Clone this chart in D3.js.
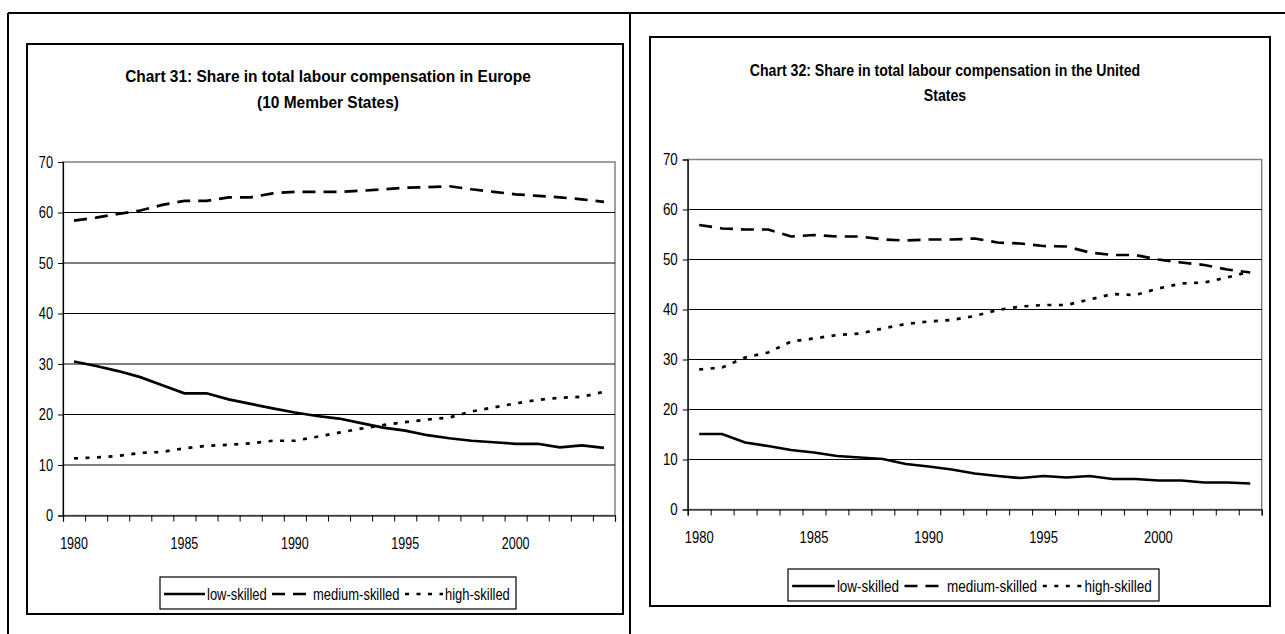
<!DOCTYPE html>
<html><head><meta charset="utf-8">
<script src="https://cdn.jsdelivr.net/npm/d3@7/dist/d3.min.js"></script>
<style>
body{margin:0;background:#fff}
text{font-family:Arial,"Liberation Sans",sans-serif;fill:#000}
</style>
</head><body>
<svg id="c" width="1285" height="634"></svg>
<script>
// ---------- DATA ----------
const years = ["1980","1981","1982","1983","1984","1985","1986","1987","1988","1989","1990","1991","1992",
               "1993","1994","1995","1996","1997","1998","1999","2000","2001","2002","2003","2004"];
const yearLabels = ["1980","1985","1990","1995","2000"];
const yTicks = [0,10,20,30,40,50,60,70];
const seriesNames = ["low-skilled","medium-skilled","high-skilled"];

// Chart 31: Europe (10 Member States)
const euLow    = [30.5,29.6,28.6,27.4,25.8,24.2,24.2,23.0,22.1,21.2,20.4,19.7,19.2,18.3,17.4,16.8,15.9,15.3,14.8,14.5,14.2,14.2,13.5,13.9,13.4];
const euMedium = [58.4,59.0,59.7,60.4,61.5,62.3,62.3,63.0,63.0,63.8,64.1,64.1,64.1,64.3,64.6,64.9,65.0,65.2,64.6,64.1,63.6,63.3,63.0,62.6,62.1];
const euHigh   = [11.3,11.5,11.8,12.4,12.6,13.3,13.8,14.0,14.3,14.8,14.8,15.6,16.4,17.2,17.9,18.5,19.0,19.4,20.6,21.4,22.2,22.9,23.3,23.5,24.5];

// Chart 32: United States
const usLow    = [15.1,15.1,13.4,12.7,11.9,11.4,10.7,10.4,10.1,9.1,8.6,8.0,7.2,6.7,6.3,6.7,6.4,6.7,6.1,6.1,5.8,5.8,5.4,5.4,5.2];
const usMedium = [56.9,56.2,56.0,56.0,54.6,54.9,54.6,54.6,54.0,53.8,54.0,54.0,54.2,53.4,53.2,52.7,52.6,51.4,50.9,50.9,50.0,49.4,48.9,48.0,47.4];
const usHigh   = [28.0,28.4,30.4,31.4,33.6,34.2,34.9,35.2,36.2,37.1,37.6,37.9,38.7,39.9,40.6,40.9,40.9,42.0,43.1,42.9,44.2,45.2,45.4,46.4,47.6];

const euTitle = ["Chart 31: Share in total labour compensation in Europe","(10 Member States)"];
const usTitle = ["Chart 32: Share in total labour compensation in the United","States"];

// ---------- STYLE ----------
const dashes = [null, "13,8", "4,7.5"];
const svg = d3.select("#c");
svg.append("rect").attr("width",1285).attr("height",634).attr("fill","#fff");

function squeeze(sel,k){
  sel.each(function(){
    const l=this.getComputedTextLength();
    this.setAttribute("textLength", l*k);
    this.setAttribute("lengthAdjust","spacingAndGlyphs");
  });
}

// outer document frame
const frame = svg.append("g").attr("stroke","#000").attr("stroke-width",2);
frame.append("line").attr("x1",8).attr("x2",1285).attr("y1",13).attr("y2",13);
frame.append("line").attr("x1",8).attr("x2",8).attr("y1",13).attr("y2",634);
frame.append("line").attr("x1",630).attr("x2",630).attr("y1",13).attr("y2",634);

function drawChart(cfg){
  const g = svg.append("g");
  const [bx0,by0,bx1,by1] = cfg.box;
  g.append("rect").attr("x",bx0).attr("y",by0).attr("width",bx1-bx0).attr("height",by1-by0)
    .attr("fill","#fff").attr("stroke","#000").attr("stroke-width",2);

  // title
  cfg.title.forEach((t,i)=>{
    const tt = g.append("text").attr("x",cfg.titleX).attr("y",cfg.titleY[i]).attr("dy","0.35em")
      .attr("text-anchor","middle").attr("font-weight","bold").attr("font-size",17).text(t);
    squeeze(tt,cfg.titleK);
  });

  const [px0,py0,px1,py1] = cfg.plot;
  const y = d3.scaleLinear().domain([0,70]).range([py1,py0]);
  const xb = d3.scaleBand().domain(years).range([px0,px1]);
  const xi = d3.scaleLinear().domain([0,years.length]).range([px0,px1]);
  const xc = d => xb(d)+xb.bandwidth()/2;

  // plot area border
  g.append("rect").attr("x",px0).attr("y",py0).attr("width",px1-px0).attr("height",py1-py0)
    .attr("fill","#fff").attr("stroke","#808080").attr("stroke-width",1.5);

  // gridlines
  g.append("g").selectAll("line").data(yTicks.filter(v=>v>0 && v<70)).join("line")
    .attr("x1",px0).attr("x2",px1).attr("y1",d=>y(d)).attr("y2",d=>y(d))
    .attr("stroke","#000").attr("stroke-width",1);

  // y axis
  const ya = g.append("g").attr("transform",`translate(${px0},0)`)
    .call(d3.axisLeft(y).tickValues(yTicks).tickSize(5).tickPadding(5).tickFormat(d3.format("d")));
  ya.select(".domain").attr("stroke","#000").attr("stroke-width",1.2);
  ya.selectAll(".tick line").attr("stroke","#000");
  ya.selectAll("text").attr("font-size",16).attr("font-family","Arial, 'Liberation Sans', sans-serif");
  squeeze(ya.selectAll("text"),0.8*cfg.sx);

  // x axis (ticks between categories)
  const xa = g.append("g").attr("transform",`translate(0,${py1})`)
    .call(d3.axisBottom(xi).tickValues(d3.range(0,years.length+1)).tickSize(6).tickFormat(""));
  xa.select(".domain").attr("stroke","#000").attr("stroke-width",1.2);
  xa.selectAll(".tick line").attr("stroke","#000");
  const xl = g.append("g").selectAll("text").data(yearLabels).join("text")
    .attr("x",d=>xc(d)).attr("y",py1+27.5).attr("dy","0.35em").attr("text-anchor","middle")
    .attr("font-size",16).text(d=>d);
  squeeze(xl,0.78*cfg.sx);

  // lines
  const line = d3.line().x((d,i)=>xc(years[i])).y(d=>y(d));
  cfg.series.forEach((s,i)=>{
    g.append("path").datum(s).attr("d",line).attr("fill","none").attr("stroke","#000")
      .attr("stroke-width",2.7).attr("stroke-dasharray",dashes[i]);
  });

  // legend
  const L = cfg.legend, sx = cfg.sx;
  g.append("rect").attr("x",L.x).attr("y",L.y).attr("width",L.w).attr("height",L.h)
    .attr("fill","#fff").attr("stroke","#000").attr("stroke-width",1.2);
  const items = [{s0:4,s1:45,t:47},{s0:112,s1:147,t:153},{s0:245,s1:283,t:285}];
  const cy = L.y+L.h/2+1;
  items.forEach((it,i)=>{
    g.append("line").attr("x1",L.x+it.s0*sx).attr("x2",L.x+it.s1*sx).attr("y1",cy).attr("y2",cy)
      .attr("stroke","#000").attr("stroke-width",2.7).attr("stroke-dasharray",dashes[i]);
    const t = g.append("text").attr("x",L.x+it.t*sx).attr("y",cy).attr("dy","0.35em")
      .attr("font-size",16).text(seriesNames[i]);
    squeeze(t,0.81*sx);
  });
}

drawChart({box:[27,44,623,614], plot:[63,162,615,515.5], title:euTitle, titleX:328, titleY:[76,102], titleK:0.91,
  legend:{x:160,y:577,w:356,h:32}, sx:1, series:[euLow,euMedium,euHigh]});
drawChart({box:[650,37,1270,606], plot:[687.7,159.5,1261.7,509.5], title:usTitle, titleX:945, titleY:[70,95], titleK:0.83,
  legend:{x:788,y:569,w:371,h:32}, sx:1.04, series:[usLow,usMedium,usHigh]});
</script>
</body></html>
